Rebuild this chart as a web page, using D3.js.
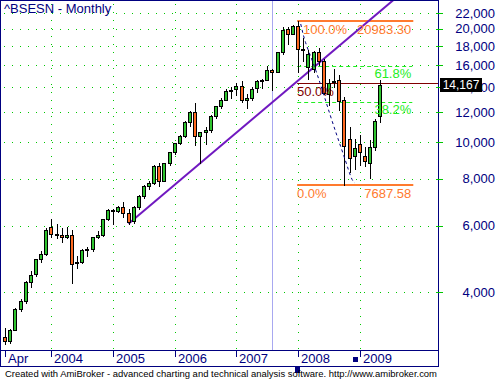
<!DOCTYPE html>
<meta charset="utf-8">
<head>
<style>
body { margin: 0; background: #fff; }
svg { display: block; font-family: Arial, "Liberation Sans", sans-serif; }
</style>
</head>
<script src="https://d3js.org/d3.v7.min.js"></script>
<div id="chart"></div>
<script>

// ^BSESN monthly bars, Apr 2003 .. May 2009
var months = [
  "2003-04","2003-05","2003-06","2003-07","2003-08","2003-09","2003-10","2003-11","2003-12",
  "2004-01","2004-02","2004-03","2004-04","2004-05","2004-06","2004-07","2004-08","2004-09","2004-10","2004-11","2004-12",
  "2005-01","2005-02","2005-03","2005-04","2005-05","2005-06","2005-07","2005-08","2005-09","2005-10","2005-11","2005-12",
  "2006-01","2006-02","2006-03","2006-04","2006-05","2006-06","2006-07","2006-08","2006-09","2006-10","2006-11","2006-12",
  "2007-01","2007-02","2007-03","2007-04","2007-05","2007-06","2007-07","2007-08","2007-09","2007-10","2007-11","2007-12",
  "2008-01","2008-02","2008-03","2008-04","2008-05","2008-06","2008-07","2008-08","2008-09","2008-10","2008-11","2008-12",
  "2009-01","2009-02","2009-03","2009-04","2009-05"];
var opens = [
  3049, 2962, 3181, 3610, 3792, 4245, 4455, 4906, 5050,
  5950, 5700, 5670, 5595, 5670, 4770, 4800, 5175, 5200, 5590, 5680, 6240,
  6600, 6556, 6714, 6500, 6160, 6715, 7194, 7640, 7805, 8640, 7900, 8800,
  9400, 9950, 10370, 11290, 12050, 10400, 10620, 10750, 11700, 12460, 12960, 13700,
  13790, 14100, 12940, 13080, 13880, 14550, 14650, 15550, 15320, 17300, 19900, 19400,
  20300, 17650, 15800, 15650, 17300, 16400, 13400, 14400, 14600, 12900, 10170, 9180,
  9860, 9180, 8780, 9700, 11700];
var highs = [
  3221, 3200, 3640, 3835, 4280, 4550, 4910, 5140, 5920,
  6250, 6050, 5930, 5950, 5840, 4975, 5200, 5270, 5600, 5800, 6250, 6650,
  6650, 6750, 6950, 6650, 6750, 7230, 7700, 7880, 8700, 8820, 8800, 9440,
  9960, 10430, 11350, 12100, 12671, 10650, 10940, 11800, 12500, 13070, 13800, 14035,
  14325, 14500, 13400, 14000, 14600, 14700, 15870, 15600, 17360, 20240, 20204, 20500,
  20983.3, 18896, 17600, 17480, 17735, 16600, 14700, 15580, 15100, 13200, 10945, 10190,
  10470, 9724, 10127, 11492, 14600];
var lows = [
  2904, 2935, 3170, 3560, 3740, 4130, 4400, 4800, 5020,
  5590, 5550, 5420, 5560, 4227, 4620, 4780, 5000, 5130, 5550, 5650, 6200,
  6070, 6530, 6320, 6069, 6100, 6640, 7100, 7500, 7750, 7656, 7870, 8700,
  9280, 9900, 10300, 11000, 9826, 8799, 9870, 10620, 11600, 12300, 12900, 13070,
  13300, 12800, 12316, 12900, 13600, 13950, 14600, 13780, 15300, 17100, 18182, 19300,
  15332, 16457, 14677, 15300, 16000, 13405, 12514, 14000, 12153, 7687.58, 8316, 8467,
  8674, 8619, 8047, 9546, 11300];
var closes = [
  2960, 3181, 3607, 3792, 4244, 4453, 4906, 5044, 5839,
  5696, 5667, 5591, 5655, 4760, 4795, 5170, 5192, 5584, 5672, 6234, 6603,
  6556, 6714, 6493, 6155, 6715, 7194, 7635, 7805, 8634, 7892, 8789, 9398,
  9920, 10370, 11280, 12043, 10399, 10609, 10744, 11699, 12454, 12962, 13696, 13787,
  14091, 12938, 13072, 13872, 14544, 14651, 15551, 15319, 17291, 19838, 19363, 20287,
  17649, 17578, 17100, 17287, 16416, 13462, 14356, 14565, 12860, 9788, 9093, 9647,
  9424, 8892, 9709, 11403, 14167];

var yTicks = [4000, 6000, 8000, 10000, 12000, 14000, 16000, 18000, 20000, 22000];
var xTickMonths = ["2003-04", "2004-01", "2005-01", "2006-01", "2007-01", "2008-01", "2009-01"];
var xTickLabels = ["Apr", "2004", "2005", "2006", "2007", "2008", "2009"];

// fibonacci retracement drawn from the Jan 2008 top to the Oct 2008 low
var fibLow = 7687.58, fibHigh = 20983.30;
var fibLevels = [0, 0.382, 0.5, 0.618, 1];
var fibNames = ["0.0%", "38.2%", "50.0%", "61.8%", "100.0%"];

// trend line through two monthly lows
var trendMonths = ["2005-04", "2006-06"];

// dashed curve (bar index, price)
var arcIdx = [57.5, 58.3, 59.9, 61.6, 63.2, 64.7, 66.3, 67.4, 68.0];
var arcVals = [20570, 18430, 16310, 13910, 11800, 10250, 8860, 7930, 7790];

var cursorMonth = "2007-08";
var lastClose = closes[closes.length - 1];

var W = 499, H = 379;
var plotL = 1, plotR = 438, plotT = 0, plotB = 350, frameB = 366;

var svg = d3.select("#chart").append("svg")
  .attr("width", W).attr("height", H);

var x = d3.scaleLinear().domain([-0.8, 84.2]).range([plotL, plotR]);
var y = d3.scaleLog().domain([2808, 23820]).range([plotB, plotT]);
var mi = function(m) { return months.indexOf(m); };
var px = function(v) { return Math.round(v) + 0.5; };

var clip = svg.append("clipPath").attr("id", "plotclip")
  .append("rect").attr("x", plotL).attr("y", plotT).attr("width", plotR - plotL).attr("height", plotB - plotT);

var navy = "#000080";
var grid = "#00c800";

// grid
svg.append("g").selectAll("line").data(yTicks).enter().append("line")
  .attr("x1", plotL + 3).attr("x2", plotR)
  .attr("y1", function(d) { return px(y(d)); }).attr("y2", function(d) { return px(y(d)); })
  .attr("stroke", grid).attr("stroke-dasharray", "1,7");
svg.append("g").selectAll("line").data(xTickMonths.slice(1)).enter().append("line")
  .attr("x1", function(d) { return px(x(mi(d))); }).attr("x2", function(d) { return px(x(mi(d))); })
  .attr("y1", plotT + 4).attr("y2", plotB)
  .attr("stroke", grid).attr("stroke-dasharray", "1,7");

// cursor line
svg.append("line")
  .attr("x1", px(x(mi(cursorMonth)))).attr("x2", px(x(mi(cursorMonth))))
  .attr("y1", plotT).attr("y2", plotB)
  .attr("stroke", "#a8a8f0");

var plot = svg.append("g").attr("clip-path", "url(#plotclip)");

// fib levels
var fx1 = x(57) - 1, fx2 = x(79.2);
fibLevels.forEach(function(f, k) {
  var v = fibLow + f * (fibHigh - fibLow);
  var yy = Math.round(y(v));
  var ln = plot.append("line").attr("y1", yy).attr("y2", yy).attr("x1", fx1);
  if (f == 0 || f == 1) {
    ln.attr("x2", fx2 + 1).attr("stroke", "#ff7a2e").attr("stroke-width", 2);
  } else if (f == 0.5) {
    ln.attr("x2", plotR).attr("stroke", "#800000").attr("y1", yy + 0.5).attr("y2", yy + 0.5);
  } else {
    ln.attr("x2", fx2).attr("stroke", "#22ee22").attr("stroke-dasharray", "4,3")
      .attr("y1", yy + 0.5).attr("y2", yy + 0.5);
  }
});

// trend line, extended to the right
var t0 = mi(trendMonths[0]), t1 = mi(trendMonths[1]);
var slope = (Math.log(lows[t1]) - Math.log(lows[t0])) / (t1 - t0);
var tEnd = 84;
plot.append("line")
  .attr("x1", x(t0)).attr("y1", y(lows[t0]))
  .attr("x2", x(tEnd)).attr("y2", y(Math.exp(Math.log(lows[t0]) + slope * (tEnd - t0))))
  .attr("stroke", "#7018c0").attr("stroke-width", 2);

// candles
var bars = months.map(function(m, i) {
  return {i: i, o: opens[i], h: highs[i], l: lows[i], c: closes[i]};
});
var cg = plot.append("g").attr("shape-rendering", "crispEdges");
cg.selectAll(".wick").data(bars).enter().append("line")
  .attr("x1", function(d) { return px(x(d.i)); }).attr("x2", function(d) { return px(x(d.i)); })
  .attr("y1", function(d) { return Math.round(y(d.h)); })
  .attr("y2", function(d) { return Math.round(y(d.l)) + 1; })
  .attr("stroke", "#000");
cg.selectAll(".body").data(bars).enter().append("rect")
  .attr("x", function(d) { return Math.round(x(d.i)) - 1.5; })
  .attr("width", 3)
  .attr("y", function(d) { return Math.round(y(Math.max(d.o, d.c))) + 0.5; })
  .attr("height", function(d) { return Math.max(0, Math.round(y(Math.min(d.o, d.c))) - Math.round(y(Math.max(d.o, d.c)))); })
  .attr("fill", function(d) { return d.c >= d.o ? "#2fc42f" : "#ff6a20"; })
  .attr("stroke", "#000");

// dashed curve
var arcLine = d3.line().curve(d3.curveBasis)
  .x(function(d, i) { return x(arcIdx[i]); })
  .y(function(d, i) { return y(arcVals[i]); });
plot.append("path").datum(arcIdx).attr("d", arcLine)
  .attr("fill", "none").attr("stroke", navy).attr("stroke-dasharray", "3,3");

// fib labels
var fibY = function(f) { return y(fibLow + f * (fibHigh - fibLow)); };
var lab = svg.append("g").style("font-size", "13px");
lab.append("text").attr("x", 303).attr("y", fibY(1) + 13).attr("fill", "#ff7a2e").text(fibNames[4]);
lab.append("text").attr("x", fx2 - 1).attr("y", fibY(1) + 13).attr("text-anchor", "end").attr("fill", "#ff7a2e").text(d3.format(".2f")(fibHigh));
lab.append("text").attr("x", fx2 - 1).attr("y", fibY(0.618) + 12).attr("text-anchor", "end").attr("fill", "#22ee22").text(fibNames[3]);
lab.append("text").attr("x", plotL + 296).attr("y", fibY(0.5) + 13).attr("fill", "#800000").text(fibNames[2]);
lab.append("text").attr("x", fx2 - 1).attr("y", fibY(0.382) + 12).attr("text-anchor", "end").attr("fill", "#22ee22").text(fibNames[1]);
lab.append("text").attr("x", plotL + 296).attr("y", fibY(0) + 13).attr("fill", "#ff7a2e").text(fibNames[0]);
lab.append("text").attr("x", fx2 - 1).attr("y", fibY(0) + 13).attr("text-anchor", "end").attr("fill", "#ff7a2e").text(d3.format(".2f")(fibLow));

// title
svg.append("text").attr("x", 4).attr("y", 13).attr("fill", navy)
  .style("font-size", "13px").text("^BSESN - Monthly");

// frame and axes
svg.append("rect").attr("x", 0.5).attr("y", 0.5).attr("width", plotR - 0.5).attr("height", frameB - 0.5)
  .attr("fill", "none").attr("stroke", navy).attr("shape-rendering", "crispEdges");
svg.append("line").attr("x1", 0).attr("x2", plotR + 1).attr("y1", plotB + 0.5).attr("y2", plotB + 0.5)
  .attr("stroke", navy).attr("shape-rendering", "crispEdges");
svg.append("line").attr("x1", plotR + 0.5).attr("x2", plotR + 0.5).attr("y1", 0).attr("y2", frameB)
  .attr("stroke", navy).attr("shape-rendering", "crispEdges");

// right axis
var ya = svg.append("g");
ya.selectAll("line").data(yTicks).enter().append("line")
  .attr("x1", plotR - 2).attr("x2", plotR + 5)
  .attr("y1", function(d) { return px(y(d)); }).attr("y2", function(d) { return px(y(d)); })
  .attr("stroke", grid);
ya.selectAll("text").data(yTicks).enter().append("text")
  .attr("x", 495).attr("y", function(d) { return y(d); }).attr("dy", "0.36em")
  .attr("text-anchor", "end").attr("fill", navy).style("font-size", "13px")
  .text(d3.format(","));

// last price tag
svg.append("rect").attr("x", 440).attr("y", Math.round(y(lastClose)) - 7).attr("width", 42).attr("height", 14).attr("fill", "#000");
svg.append("text").attr("x", 461).attr("y", y(lastClose)).attr("dy", "0.36em")
  .attr("text-anchor", "middle").attr("fill", "#fff").style("font-size", "12px")
  .text(d3.format(",")(lastClose));

// bottom axis
var xa = svg.append("g");
xa.selectAll("line").data(xTickMonths).enter().append("line")
  .attr("x1", function(d) { return px(x(mi(d))); }).attr("x2", function(d) { return px(x(mi(d))); })
  .attr("y1", plotB).attr("y2", plotB + 7)
  .attr("stroke", navy).attr("shape-rendering", "crispEdges");
xa.selectAll("text").data(xTickMonths).enter().append("text")
  .attr("x", function(d) { return Math.round(x(mi(d))) + 3; }).attr("y", plotB + 13)
  .attr("fill", navy).style("font-size", "13px")
  .text(function(d, i) { return xTickLabels[i]; });

// selection markers
svg.append("rect").attr("x", Math.round(x(68)) - 2).attr("y", 357).attr("width", 5).attr("height", 5).attr("fill", navy);
svg.append("rect").attr("x", Math.round(x(57)) - 3).attr("y", 367).attr("width", 5).attr("height", 6).attr("fill", navy);

// footer
svg.append("text").attr("x", 5).attr("y", 377).attr("fill", "#000")
  .style("font-size", "9.5px").attr("textLength", 432).attr("lengthAdjust", "spacingAndGlyphs")
  .text("Created with AmiBroker - advanced charting and technical analysis software. http://www.amibroker.com");

</script>
